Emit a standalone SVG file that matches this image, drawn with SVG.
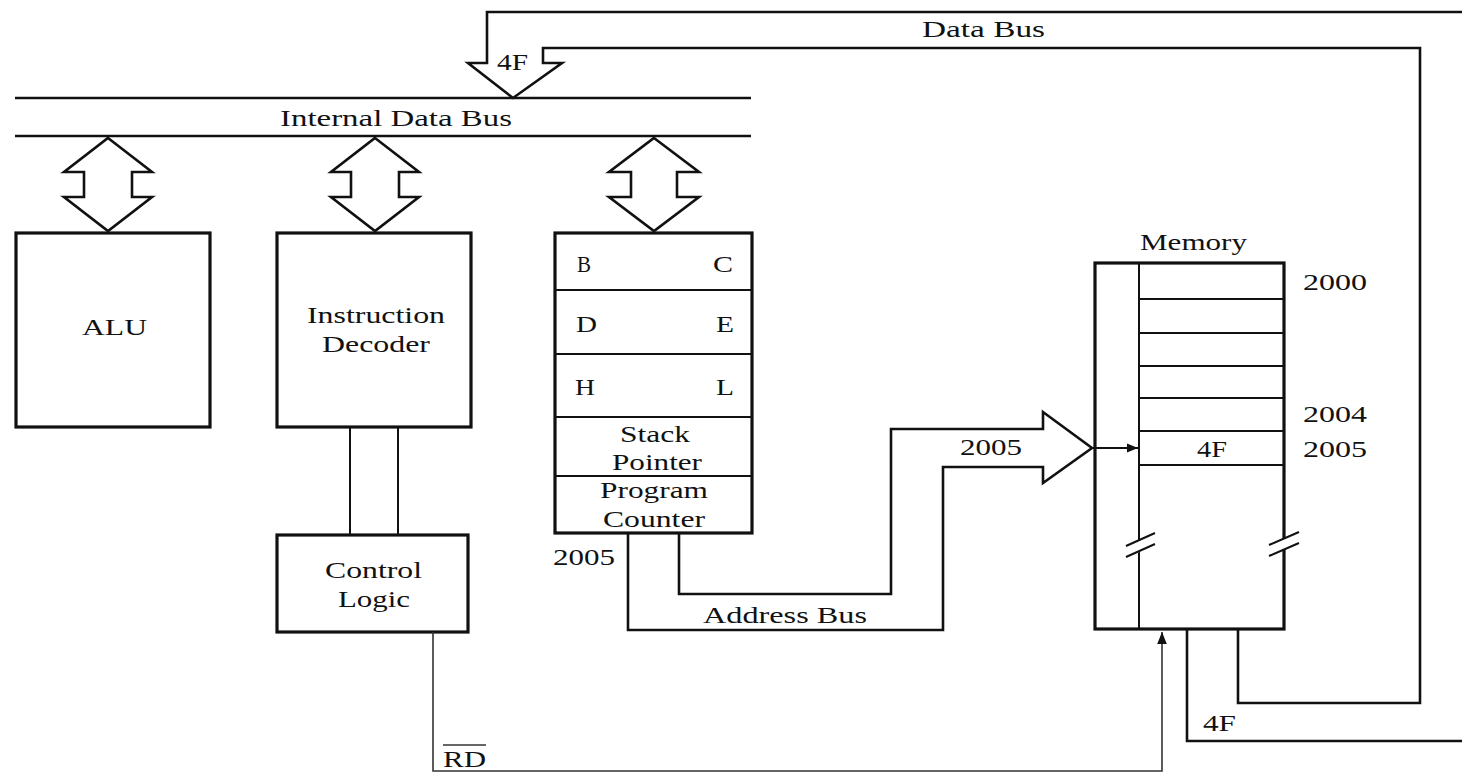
<svg xmlns="http://www.w3.org/2000/svg" width="1462" height="774" viewBox="0 0 1462 774">
<defs>
<style>
text{font-family:"Liberation Serif","Times New Roman",serif;font-size:23px;fill:#111}
.box{fill:#fff;stroke:#111;stroke-width:3.2}
.thin{fill:none;stroke:#111;stroke-width:2}
.bus{fill:none;stroke:#111;stroke-width:2.6;stroke-linejoin:miter}
.ctl{fill:none;stroke:#333;stroke-width:1.6}
.dbl{fill:#fff;stroke:#111;stroke-width:2.6;stroke-linejoin:miter}
</style>
<marker id="ah" viewBox="0 0 10 10" refX="10" refY="5" markerWidth="12" markerHeight="16" markerUnits="userSpaceOnUse" orient="auto">
<path d="M0,1 L10,5 L0,9 Z" fill="#111"/>
</marker>
<marker id="ah2" viewBox="0 0 10 10" refX="10" refY="5" markerWidth="17" markerHeight="11" markerUnits="userSpaceOnUse" orient="auto">
<path d="M0,1 L10,5 L0,9 Z" fill="#111"/>
</marker>
</defs>
<rect width="1462" height="774" fill="#fff"/>

<g id="internal-data-bus">
<line class="bus" x1="15" y1="98" x2="751" y2="98"/>
<line class="bus" x1="15" y1="136" x2="751" y2="136"/>
<text x="280" y="126" textLength="232" lengthAdjust="spacingAndGlyphs">Internal Data Bus</text>
</g>

<g id="alu">
<rect class="box" x="16" y="233" width="194" height="194"/>
<text x="82" y="335" textLength="65" lengthAdjust="spacingAndGlyphs">ALU</text>
</g>

<g id="instruction-decoder">
<rect class="box" x="277" y="233" width="194" height="194"/>
<text x="307" y="323" textLength="138" lengthAdjust="spacingAndGlyphs">Instruction</text>
<text x="322" y="352" textLength="108" lengthAdjust="spacingAndGlyphs">Decoder</text>
</g>

<g id="control-logic">
<rect class="box" x="277" y="535" width="191" height="97"/>
<text x="325" y="578" textLength="97" lengthAdjust="spacingAndGlyphs">Control</text>
<text x="338" y="607" textLength="72" lengthAdjust="spacingAndGlyphs">Logic</text>
</g>

<g id="registers">
<rect class="box" x="555" y="233" width="197" height="300"/>
<line class="thin" x1="555" y1="290" x2="752" y2="290"/>
<line class="thin" x1="555" y1="354" x2="752" y2="354"/>
<line class="thin" x1="555" y1="417" x2="752" y2="417"/>
<line class="thin" x1="555" y1="476" x2="752" y2="476"/>
<text x="577" y="272" textLength="14" lengthAdjust="spacingAndGlyphs">B</text>
<text x="713" y="272" textLength="20" lengthAdjust="spacingAndGlyphs">C</text>
<text x="576" y="332" textLength="21" lengthAdjust="spacingAndGlyphs">D</text>
<text x="716" y="332" textLength="18" lengthAdjust="spacingAndGlyphs">E</text>
<text x="575" y="395" textLength="20" lengthAdjust="spacingAndGlyphs">H</text>
<text x="716" y="395" textLength="18" lengthAdjust="spacingAndGlyphs">L</text>
<text x="620" y="442" textLength="70" lengthAdjust="spacingAndGlyphs">Stack</text>
<text x="612" y="470" textLength="90" lengthAdjust="spacingAndGlyphs">Pointer</text>
<text x="600" y="498" textLength="108" lengthAdjust="spacingAndGlyphs">Program</text>
<text x="603" y="527" textLength="102" lengthAdjust="spacingAndGlyphs">Counter</text>
<text x="553" y="565" textLength="62" lengthAdjust="spacingAndGlyphs">2005</text>
</g>

<g id="memory">
<text x="1140" y="250" textLength="107" lengthAdjust="spacingAndGlyphs">Memory</text>
<rect class="box" x="1095" y="263" width="189" height="366"/>
<line class="thin" x1="1139" y1="263" x2="1139" y2="629"/>
<line class="thin" x1="1139" y1="299" x2="1284" y2="299"/>
<line class="thin" x1="1139" y1="333" x2="1284" y2="333"/>
<line class="thin" x1="1139" y1="366" x2="1284" y2="366"/>
<line class="thin" x1="1139" y1="398" x2="1284" y2="398"/>
<line class="thin" x1="1139" y1="431" x2="1284" y2="431"/>
<line class="thin" x1="1139" y1="465" x2="1284" y2="465"/>
<text x="1197" y="457" textLength="30" lengthAdjust="spacingAndGlyphs">4F</text>
<text x="1303" y="290" textLength="64" lengthAdjust="spacingAndGlyphs">2000</text>
<text x="1303" y="422" textLength="64" lengthAdjust="spacingAndGlyphs">2004</text>
<text x="1303" y="457" textLength="64" lengthAdjust="spacingAndGlyphs">2005</text>
<polygon points="1126,546 1155,533 1155,545 1126,558" fill="#fff" stroke="none"/>
<line class="thin" x1="1126" y1="546" x2="1155" y2="533"/>
<line class="thin" x1="1126" y1="557" x2="1155" y2="544"/>
<polygon points="1269,545 1299,532 1299,543 1269,556" fill="#fff" stroke="none"/>
<line class="thin" x1="1269" y1="545" x2="1299" y2="532"/>
<line class="thin" x1="1269" y1="556" x2="1299" y2="543"/>
</g>

<g id="connectors">
<polygon class="dbl" points="108,138 152,172 132,172 132,197 152,197 108,231 64,197 84,197 84,172 64,172"/>
<polygon class="dbl" points="375,138 419,172 399,172 399,197 419,197 375,231 331,197 351,197 351,172 331,172"/>
<polygon class="dbl" points="654,138 699,172 677,172 677,197 699,197 654,231 609,197 631,197 631,172 609,172"/>
<line class="thin" x1="350" y1="427" x2="350" y2="535"/>
<line class="thin" x1="398" y1="427" x2="398" y2="535"/>
<path class="bus" d="M1238,629 V703 H1420 V48 H543 V63 H562 L513,98 L468,63 H487 V12 H1462"/>
<path class="bus" d="M1187,629 V741 H1462"/>
<path class="bus" d="M628,533 V630 H943 V467 H1043 V483 L1092,448 L1043,412 V429 H891 V594 H679 V533"/>
<line class="thin" x1="1092" y1="448" x2="1138" y2="448" marker-end="url(#ah2)"/>
<path class="ctl" d="M433,632 V771 H1162 V632" marker-end="url(#ah)"/>
<text x="922" y="37" textLength="123" lengthAdjust="spacingAndGlyphs">Data Bus</text>
<text x="497" y="70" textLength="31" lengthAdjust="spacingAndGlyphs">4F</text>
<text x="703" y="623" textLength="164" lengthAdjust="spacingAndGlyphs">Address Bus</text>
<text x="960" y="455" textLength="62" lengthAdjust="spacingAndGlyphs">2005</text>
<text x="1203" y="731" textLength="33" lengthAdjust="spacingAndGlyphs">4F</text>
<text x="443" y="767" textLength="43" lengthAdjust="spacingAndGlyphs">RD</text>
<line x1="443" y1="745" x2="486" y2="745" stroke="#333" stroke-width="1.6"/>
</g>
</svg>
